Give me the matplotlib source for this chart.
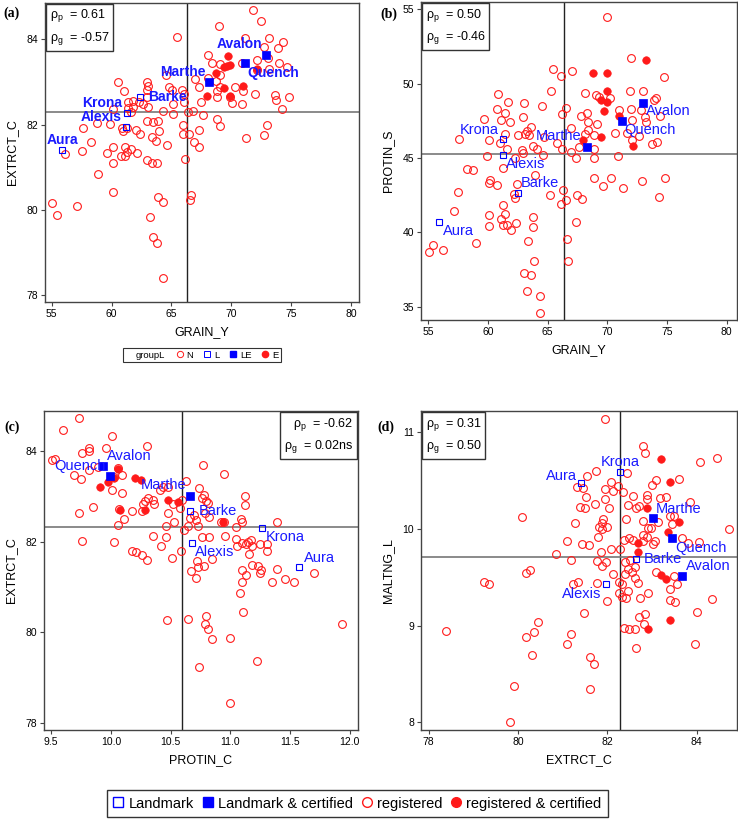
import matplotlib
matplotlib.use("Agg")
import matplotlib.pyplot as plt
from matplotlib.lines import Line2D

plt.rcParams['font.family'] = ['Liberation Sans', 'DejaVu Sans']
plt.rcParams['mathtext.fontset'] = 'custom'
plt.rcParams['mathtext.rm'] = 'Liberation Sans'
plt.rcParams['mathtext.it'] = 'Liberation Sans'

# ---------------- data ----------------
names = ['Aura', 'Krona', 'Alexis', 'Barke', 'Marthe', 'Quench', 'Avalon']
groups = ['L', 'L', 'L', 'L', 'LE', 'LE', 'LE']

# panel (a): GRAIN_Y vs EXTRCT_C
a_N_x = [71.84, 72.48, 69.00, 65.44, 71.15, 73.12, 74.35, 73.93, 72.76, 68.08,
         68.36, 69.09, 70.87, 72.18, 73.10, 74.01, 74.68, 73.18, 72.12, 69.06,
         66.97, 68.03, 68.72, 64.52, 69.06, 67.33, 68.78, 70.31, 70.95, 69.89,
         68.78, 70.09, 70.87, 67.50, 72.00, 73.65, 73.73, 74.79, 74.24, 67.67,
         66.83, 66.39, 68.78, 69.09, 72.96, 72.76, 71.23, 67.33, 66.92, 67.33,
         66.00, 65.94, 66.44, 66.16, 66.64, 66.55, 65.16, 65.02, 65.86, 66.08,
         66.08, 65.13, 64.33, 64.83, 63.91, 63.44, 62.93, 63.99, 63.35, 63.71,
         64.60, 62.93, 63.35, 63.77, 63.91, 64.33, 63.21, 63.49, 63.82, 64.33,
         62.93, 63.07, 62.93, 62.93, 62.66, 63.07, 62.32, 61.82, 61.40, 61.82,
         61.35, 61.60, 60.51, 61.04, 60.15, 62.04, 61.26, 60.85, 60.93, 61.12,
         61.26, 61.60, 60.76, 61.15, 62.16, 62.38, 59.87, 58.76, 57.64, 58.29,
         57.51, 59.59, 60.15, 60.15, 58.90, 60.15, 56.14, 55.06, 55.42, 57.09]
a_N_y = [84.68, 84.43, 84.30, 84.06, 84.02, 84.02, 83.93, 83.80, 83.83, 83.63,
         83.45, 83.43, 83.45, 83.51, 83.56, 83.44, 83.36, 83.30, 83.28, 83.17,
         83.06, 83.10, 83.03, 83.17, 82.89, 82.89, 82.79, 82.89, 82.79, 82.65,
         82.64, 82.50, 82.48, 82.52, 82.71, 82.69, 82.58, 82.65, 82.36, 82.23,
         82.31, 82.30, 82.13, 81.97, 81.99, 81.76, 81.69, 81.87, 81.58, 81.47,
         81.99, 81.77, 81.77, 81.19, 80.36, 80.24, 82.25, 82.81, 82.81, 82.71,
         82.52, 82.48, 82.32, 82.87, 82.09, 82.07, 82.09, 81.86, 81.72, 81.61,
         81.53, 81.18, 81.10, 81.09, 80.30, 80.18, 79.83, 79.36, 79.22, 78.41,
         82.99, 82.91, 82.81, 82.64, 82.48, 82.42, 82.52, 82.56, 82.52, 82.42,
         82.39, 82.29, 82.99, 82.79, 82.36, 81.87, 81.93, 81.93, 81.86, 81.47,
         81.35, 81.43, 81.27, 81.26, 81.33, 81.78, 82.01, 82.03, 81.91, 81.60,
         81.37, 81.33, 81.47, 81.09, 80.84, 80.42, 81.30, 80.17, 79.89, 80.08]
a_E_x = [69.70, 69.39, 69.89, 68.72, 69.42, 70.95, 68.00, 69.89, 72.12, 69.62]
a_E_y = [83.60, 83.34, 83.40, 83.20, 82.85, 82.91, 82.67, 82.66, 83.30, 83.38]
a_lm_x = [55.89, 61.26, 61.21, 62.38, 68.17, 71.15, 72.90]
a_lm_y = [81.41, 82.27, 81.95, 82.65, 83.00, 83.44, 83.63]

# panel (b): GRAIN_Y vs PROTIN_S
b_N_x = [69.94, 71.96, 65.47, 67.04, 66.12, 65.28, 74.75, 60.87, 61.70, 63.04,
         64.55, 60.73, 61.42, 62.91, 59.69, 61.06, 61.84, 63.58, 63.24, 63.10,
         62.49, 63.46, 61.42, 60.11, 61.01, 57.60, 63.80, 64.08, 62.88, 62.96,
         64.64, 61.56, 59.94, 62.29, 64.69, 65.81, 66.23, 66.51, 66.17, 66.96,
         67.79, 68.13, 68.32, 68.41, 68.38, 69.11, 68.13, 68.91, 67.63, 66.96,
         67.37, 68.91, 68.91, 69.02, 69.33, 70.22, 70.64, 71.01, 70.87, 71.87,
         73.02, 72.02, 72.10, 72.85, 73.16, 73.24, 73.91, 74.08, 74.41, 72.68,
         72.04, 73.74, 74.13, 71.62, 58.27, 58.77, 61.28, 60.17, 60.11, 60.78,
         62.46, 63.94, 57.51, 62.18, 62.29, 65.20, 66.31, 66.51, 66.09, 67.43,
         67.85, 68.91, 69.61, 70.28, 71.34, 72.88, 74.86, 74.36, 57.15, 60.11,
         61.23, 61.42, 61.09, 61.23, 61.62, 61.90, 60.11, 62.35, 63.74, 63.80,
         63.38, 58.97, 55.42, 55.08, 56.20, 66.59, 67.37, 66.70, 63.88, 63.02,
         63.58, 63.24, 64.36, 64.36]
b_N_y = [54.46, 51.70, 50.98, 50.84, 50.51, 49.52, 50.42, 49.29, 48.78, 48.73,
         48.51, 48.30, 48.03, 47.76, 47.63, 47.54, 47.45, 47.09, 46.80, 46.64,
         46.57, 46.53, 46.64, 46.19, 46.01, 46.30, 45.79, 45.63, 45.56, 45.36,
         45.22, 45.58, 45.11, 45.02, 46.42, 46.01, 45.63, 48.39, 47.99, 47.04,
         47.81, 49.38, 48.03, 47.40, 46.91, 47.27, 46.60, 46.53, 45.74, 45.40,
         45.00, 45.63, 45.00, 49.25, 49.11, 49.07, 46.69, 48.21, 45.11, 49.52,
         49.52, 48.28, 47.54, 48.21, 47.76, 47.43, 48.93, 49.07, 47.81, 46.46,
         46.24, 45.97, 46.08, 46.69, 44.24, 44.17, 44.35, 43.54, 43.34, 43.20,
         43.22, 43.88, 42.71, 42.55, 42.33, 42.53, 42.87, 42.15, 41.88, 42.49,
         42.26, 43.67, 43.11, 43.67, 42.98, 43.45, 43.67, 42.37, 41.43, 41.18,
         41.81, 41.25, 40.91, 40.46, 40.46, 40.19, 40.42, 40.64, 41.02, 40.35,
         39.40, 39.29, 39.18, 38.66, 38.82, 39.56, 40.69, 38.10, 38.06, 37.25,
         37.13, 36.03, 35.70, 34.55]
b_E_x = [68.77, 69.94, 73.24, 69.94, 69.47, 70.00, 69.75, 71.01, 67.99, 69.47, 72.18]
b_E_y = [50.73, 50.73, 51.63, 49.52, 48.89, 48.78, 48.17, 47.83, 46.24, 46.42, 45.81]
b_lm_x = [55.92, 61.28, 61.28, 62.49, 68.27, 71.20, 72.96]
b_lm_y = [40.69, 46.30, 45.18, 42.66, 45.74, 47.49, 48.73]

# panel (c): PROTIN_C vs EXTRCT_C
c_N_x = [9.73, 9.60, 10.01, 10.30, 9.82, 9.82, 9.76, 9.96, 9.53, 9.51,
         9.69, 9.75, 9.82, 9.89, 10.09, 10.06, 10.03, 10.01, 10.09, 9.85,
         9.73, 10.07, 10.06, 10.11, 10.18, 10.26, 10.27, 10.31, 10.35, 10.36,
         10.29, 10.41, 10.44, 10.48, 10.48, 10.52, 10.58, 10.60, 10.63, 10.46,
         10.53, 10.61, 10.65, 10.66, 10.70, 10.71, 10.73, 10.77, 10.74, 10.76,
         10.78, 10.80, 10.79, 10.81, 10.82, 10.95, 10.92, 10.95, 11.12, 11.12,
         11.09, 11.05, 11.10, 11.39, 10.35, 10.46, 10.42, 10.18, 10.21, 10.26,
         10.30, 10.51, 10.59, 10.03, 9.76, 10.76, 10.82, 10.96, 11.05, 11.06,
         11.10, 11.13, 11.15, 11.17, 11.18, 11.16, 11.25, 11.31, 11.31, 10.72,
         10.73, 10.78, 10.67, 10.71, 10.85, 11.10, 11.13, 11.18, 11.23, 11.25,
         11.26, 11.35, 11.39, 11.46, 11.53, 11.10, 11.70, 11.08, 11.11, 10.47,
         10.65, 10.80, 10.79, 10.81, 10.85, 11.00, 11.22, 10.74, 11.00, 11.94]
c_N_y = [84.72, 84.45, 84.33, 84.10, 84.06, 83.99, 83.95, 84.06, 83.82, 83.80,
         83.47, 83.39, 83.57, 83.64, 83.47, 83.62, 83.42, 83.14, 83.08, 82.76,
         82.62, 82.71, 82.36, 82.50, 82.67, 82.68, 82.82, 82.97, 82.92, 82.82,
         82.90, 83.14, 83.20, 83.20, 82.62, 82.83, 82.73, 82.92, 83.34, 82.34,
         82.43, 82.26, 82.35, 82.51, 82.58, 82.48, 82.34, 83.69, 83.19, 82.95,
         83.03, 82.90, 82.62, 82.85, 82.53, 83.49, 82.44, 82.42, 83.01, 82.81,
         82.50, 82.33, 82.42, 82.42, 82.12, 82.11, 81.89, 81.78, 81.77, 81.70,
         81.59, 81.63, 81.78, 81.98, 82.01, 82.09, 82.09, 82.12, 82.05, 81.89,
         81.96, 81.94, 81.98, 82.03, 81.89, 81.72, 81.94, 81.95, 81.80, 81.56,
         81.44, 81.47, 81.35, 81.20, 81.61, 81.37, 81.26, 81.49, 81.47, 81.31,
         81.37, 81.11, 81.39, 81.17, 81.11, 81.11, 81.30, 80.87, 80.45, 80.27,
         80.30, 80.36, 80.19, 80.08, 79.84, 79.88, 79.36, 79.22, 78.43, 80.17]
c_E_x = [9.91, 9.98, 10.03, 10.06, 10.08, 10.20, 10.25, 10.29, 10.48, 10.56, 10.94]
c_E_y = [83.20, 83.31, 83.41, 83.60, 82.70, 83.40, 83.36, 82.70, 82.92, 82.88, 82.42]
c_lm_x = [11.58, 11.27, 10.68, 10.66, 10.66, 9.93, 9.99]
c_lm_y = [81.44, 82.29, 81.97, 82.67, 83.01, 83.67, 83.45]

# panel (d): EXTRCT_C vs MALTNG_L
d_N_x = [81.95, 82.80, 82.85, 84.07, 84.45, 81.75, 82.43, 81.55, 81.31, 81.46,
         82.08, 82.24, 82.34, 81.94, 82.13, 81.52, 81.94, 81.73, 81.38, 81.49,
         82.04, 82.58, 82.47, 82.65, 82.71, 82.88, 82.88, 83.09, 83.00, 83.18,
         83.31, 83.61, 83.85, 83.39, 83.48, 83.44, 83.14, 82.80, 82.91, 82.41,
         81.90, 81.88, 81.81, 82.00, 81.87, 81.80, 81.28, 80.09, 81.10, 81.43,
         81.58, 81.86, 82.08, 82.29, 82.37, 82.49, 82.58, 82.80, 82.88, 82.97,
         82.80, 83.02, 83.06, 83.66, 83.81, 84.06, 84.71, 80.86, 81.19, 81.77,
         81.98, 81.89, 82.39, 82.50, 82.61, 82.46, 82.13, 82.39, 82.54, 82.62,
         82.32, 82.27, 82.69, 83.09, 83.48, 83.56, 83.39, 83.39, 83.51, 82.91,
         82.73, 84.34, 84.00, 83.96, 81.23, 81.34, 81.77, 82.26, 82.47, 82.32,
         82.41, 82.00, 82.70, 82.84, 82.82, 82.38, 82.49, 82.61, 82.65, 81.47,
         80.17, 80.26, 79.23, 79.36, 80.45, 80.18, 80.35, 80.31, 81.19, 81.10,
         81.61, 81.69, 81.62, 79.90, 79.83, 78.40]
d_N_y = [11.14, 10.86, 10.79, 10.69, 10.73, 10.60, 10.58, 10.55, 10.43, 10.42,
         10.49, 10.44, 10.38, 10.41, 10.39, 10.33, 10.31, 10.26, 10.23, 10.22,
         10.22, 10.34, 10.25, 10.22, 10.24, 10.35, 10.31, 10.51, 10.45, 10.32,
         10.33, 10.52, 10.28, 10.13, 10.13, 10.05, 10.07, 10.08, 10.01, 10.10,
         10.10, 10.06, 10.02, 10.02, 10.00, 9.92, 10.06, 10.12, 9.87, 9.84,
         9.83, 9.76, 9.79, 9.79, 9.89, 9.91, 9.89, 9.87, 9.92, 10.01,
         9.94, 9.84, 9.87, 9.91, 9.85, 9.86, 10.00, 9.74, 9.68, 9.67,
         9.66, 9.62, 9.66, 9.68, 9.61, 9.59, 9.53, 9.53, 9.55, 9.49,
         9.43, 9.45, 9.44, 9.55, 9.51, 9.43, 9.38, 9.26, 9.24, 9.34,
         9.29, 9.28, 9.14, 8.81, 9.43, 9.45, 9.44, 9.34, 9.36, 9.30,
         9.29, 9.25, 9.09, 9.12, 9.02, 8.97, 8.96, 8.96, 8.77, 9.13,
         9.54, 9.58, 9.45, 9.43, 9.04, 8.88, 8.93, 8.70, 8.91, 8.81,
         8.68, 8.60, 8.34, 8.38, 8.00, 8.94]
d_E_x = [83.20, 83.40, 82.88, 83.61, 83.35, 82.69, 82.69, 83.21, 83.31, 83.40, 82.91]
d_E_y = [10.72, 10.49, 10.22, 10.07, 9.97, 9.85, 9.76, 9.52, 9.48, 9.06, 8.96]
d_lm_x = [81.42, 82.28, 81.96, 82.65, 83.03, 83.44, 83.68]
d_lm_y = [10.47, 10.59, 9.43, 9.69, 10.11, 9.91, 9.51]

# reference (mean) lines: vertical x, horizontal y
ref_x = [66.33, 66.37, 10.60, 82.29]
ref_y = [82.29, 45.29, 82.31, 9.71]

corr_p = ['0.61', '0.50', '-0.62', '0.31']
corr_g = ['-0.57', '-0.46', '0.02ns', '0.50']

x_labels = ['GRAIN_Y', 'GRAIN_Y', 'PROTIN_C', 'EXTRCT_C']
y_labels = ['EXTRCT_C', 'PROTIN_S', 'EXTRCT_C', 'MALTNG_L']
panel_tags = ['(a)', '(b)', '(c)', '(d)']

# ---------------- styling / layout ----------------
W, H = 738, 822
fig = plt.figure(figsize=(W / 100, H / 100), dpi=100)

def fr(left, top, right, bottom):
    return [left / W, 1 - bottom / H, (right - left) / W, (bottom - top) / H]

axes_px = [(45, 3, 359, 302), (421, 2, 737, 320), (44, 411, 358, 730), (421, 411, 737, 730)]
limits = [((54.44, 80.67), (77.84, 84.85)),
          ((54.39, 80.86), (34.1, 55.5)),
          ((9.44, 12.07), (77.84, 84.88)),
          ((77.83, 84.90), (7.92, 11.22))]
xticks = [[55, 60, 65, 70, 75, 80], [55, 60, 65, 70, 75, 80],
          [9.5, 10.0, 10.5, 11.0, 11.5, 12.0], [78, 80, 82, 84]]
yticks = [[78, 80, 82, 84], [35, 40, 45, 50, 55], [78, 80, 82, 84], [8, 9, 10, 11]]

offsets = [
    {'Aura': (0, 10, 'center'), 'Krona': (-5, 10, 'right'), 'Alexis': (-4, 10, 'right'),
     'Barke': (8, 0, 'left'), 'Marthe': (-4, 10, 'right'), 'Quench': (2, -10, 'left'),
     'Avalon': (-4, 11, 'right')},
    {'Aura': (4, -9, 'left'), 'Krona': (-5, 9, 'right'), 'Alexis': (3, -9, 'left'),
     'Barke': (3, 10, 'left'), 'Marthe': (-5, 11, 'right'), 'Quench': (3, -9, 'left'),
     'Avalon': (3, -8, 'left')},
    {'Aura': (4, 9, 'left'), 'Krona': (3, -9, 'left'), 'Alexis': (3, -9, 'left'),
     'Barke': (9, 0, 'left'), 'Marthe': (-3, 11, 'right'), 'Quench': (3, 0, 'right'),
     'Avalon': (-3, 20, 'left')},
    {'Aura': (-4, 8, 'right'), 'Krona': (0, 10, 'center'), 'Alexis': (-4, -10, 'right'),
     'Barke': (7, 0, 'left'), 'Marthe': (2, 9, 'left'), 'Quench': (4, -10, 'left'),
     'Avalon': (3, 10, 'left')},
]
box_pos = ['ul', 'ul', 'ur', 'ul']

panels = [(a_N_x, a_N_y, a_E_x, a_E_y, a_lm_x, a_lm_y),
          (b_N_x, b_N_y, b_E_x, b_E_y, b_lm_x, b_lm_y),
          (c_N_x, c_N_y, c_E_x, c_E_y, c_lm_x, c_lm_y),
          (d_N_x, d_N_y, d_E_x, d_E_y, d_lm_x, d_lm_y)]

RED = '#ff1a1a'
BLUE = '#0000ff'
LBLUE = '#1a1aff'

for i, (nx, ny, ex, ey, lx, ly) in enumerate(panels):
    ax = fig.add_axes(fr(*axes_px[i]))
    ax.set_xlim(*limits[i][0])
    ax.set_ylim(*limits[i][1])
    for s in ax.spines.values():
        s.set_color('#444444')
        s.set_linewidth(1.0)
    ax.axvline(ref_x[i], color='#222222', lw=1.0, zorder=1)
    ax.axhline(ref_y[i], color='#777777', lw=1.2, zorder=1)
    ax.plot(nx, ny, ls='none', marker='o', ms=5.6, mfc='none', mec=RED, mew=0.8, zorder=2)
    ax.plot(ex, ey, ls='none', marker='o', ms=5.4, mfc=RED, mec=RED, mew=0.5, zorder=3)
    for j, nm in enumerate(names):
        if groups[j] == 'L':
            ax.plot(lx[j], ly[j], ls='none', marker='s', ms=5.0, mfc='none', mec=BLUE, mew=0.8, zorder=4)
        else:
            ax.plot(lx[j], ly[j], ls='none', marker='s', ms=5.8, mfc=BLUE, mec=BLUE, mew=0.5, zorder=4)
        dx, dy, ha = offsets[i][nm]
        ax.annotate(nm, (lx[j], ly[j]), xytext=(dx, dy), textcoords='offset pixels',
                    ha=ha, va='center', color=LBLUE,
                    fontsize=10 if i == 0 else 10.5,
                    fontweight='bold' if i == 0 else 'normal', zorder=5)
    ax.set_xticks(xticks[i])
    ax.set_yticks(yticks[i])
    if i == 2:
        ax.set_xticklabels([f'{v:.1f}' for v in xticks[i]])
    ax.tick_params(direction='out', length=3, width=0.8, labelsize=7.5, color='#444444', pad=2)
    ax.set_xlabel(x_labels[i], fontsize=9, labelpad=5)
    ax.set_ylabel(y_labels[i], fontsize=9, labelpad=6)
    txt = (r'$\rho_{\mathrm{p}}$  = ' + corr_p[i] + '\n' + r'$\rho_{\mathrm{g}}$  = ' + corr_g[i])
    if box_pos[i] == 'ul':
        ax.text(0.015, 0.985, txt, transform=ax.transAxes, ha='left', va='top', fontsize=9,
                linespacing=1.5,
                bbox=dict(boxstyle='square,pad=0.3', fc='white', ec='#333333', lw=1.0), zorder=6)
    else:
        ax.text(0.985, 0.985, txt, transform=ax.transAxes, ha='right', va='top', fontsize=9,
                linespacing=1.5,
                bbox=dict(boxstyle='square,pad=0.3', fc='white', ec='#333333', lw=1.0), zorder=6)
    if i == 0:
        hnd = [Line2D([], [], ls='none', marker=None),
               Line2D([], [], ls='none', marker='o', ms=4.5, mfc='none', mec=RED, mew=0.7),
               Line2D([], [], ls='none', marker='s', ms=4.5, mfc='none', mec=BLUE, mew=0.7),
               Line2D([], [], ls='none', marker='s', ms=4.5, mfc=BLUE, mec=BLUE),
               Line2D([], [], ls='none', marker='o', ms=4.5, mfc=RED, mec=RED)]
        leg = ax.legend(hnd, ['groupL', 'N', 'L', 'LE', 'E'], ncol=5, loc='center',
                        bbox_to_anchor=(0.5, -0.178), fontsize=6.8, frameon=True,
                        fancybox=False, edgecolor='black', handlelength=0.8,
                        handletextpad=0.3, columnspacing=1.1, borderpad=0.25,
                        borderaxespad=0)
        leg.get_frame().set_linewidth(0.8)

# panel tags
tag_pos = [(3, 13), (380, 14), (4, 427), (377, 427)]
for t, (px, py) in zip(panel_tags, tag_pos):
    fig.text(px / W, 1 - py / H, t, fontsize=10, fontweight='bold',
             family=['Liberation Serif', 'DejaVu Serif'], ha='left', va='center')

# bottom legend
bh = [Line2D([], [], ls='none', marker='s', ms=7, mfc='none', mec=BLUE, mew=1.0),
      Line2D([], [], ls='none', marker='s', ms=7, mfc=BLUE, mec=BLUE),
      Line2D([], [], ls='none', marker='o', ms=7, mfc='none', mec=RED, mew=1.0),
      Line2D([], [], ls='none', marker='o', ms=7, mfc=RED, mec=RED)]
bl = fig.legend(bh, ['Landmark', 'Landmark & certified', 'registered', 'registered & certified'],
                ncol=4, loc='center', bbox_to_anchor=(357.5 / W, 1 - 803.5 / H),
                fontsize=10.5, frameon=True, fancybox=False, edgecolor='black',
                handlelength=0.7, handletextpad=0.35, columnspacing=0.6, borderpad=0.45)
bl.get_frame().set_linewidth(1.0)

fig.savefig('out.png', dpi=100)
